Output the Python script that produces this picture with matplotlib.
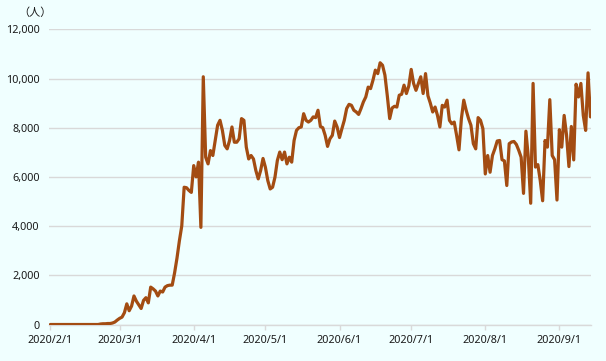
import matplotlib
matplotlib.use("Agg")
import matplotlib.pyplot as plt
import pandas as pd

# ---- data (daily values, persons) ----
start_date = "2020-02-01"
feb = [0] * 21 + [20, 30, 30, 40, 40, 60, 100, 180]
mar = [250, 300, 480, 840, 560, 750, 1160, 950, 800, 650, 980, 1090, 880, 1520, 1450,
       1360, 1160, 1360, 1320, 1520, 1580, 1600, 1600, 2100, 2700, 3400, 4010, 5580,
       5560, 5450, 5370]
apr = [6460, 6000, 6600, 3950, 10070, 6800, 6530, 7070, 6870, 7480, 8100, 8300, 7890,
       7280, 7140, 7480, 8030, 7410, 7410, 7550, 8370, 8300, 7210, 6730, 6870, 6730,
       6260, 5920, 6260, 6750]
may = [6390, 5850, 5510, 5580, 5990, 6670, 7010, 6700, 7010, 6530, 6800, 6600, 7480,
       7890, 8000, 8030, 8570, 8300, 8230, 8300, 8440, 8410, 8710, 8050, 8000, 7690,
       7240, 7550, 7690, 8270, 8030]
jun = [7600, 7960, 8300, 8780, 8950, 8910, 8710, 8640, 8540, 8780, 9050, 9250, 9650,
       9590, 9930, 10340, 10200, 10640, 10540, 10140, 9300, 8370, 8800, 8870, 8840,
       9320, 9360, 9730, 9390, 9700]
jul = [10370, 9800, 9520, 9800, 10070, 9390, 10200, 9300, 9000, 8640, 8840, 8500, 8030,
       8910, 8840, 9120, 8300, 8160, 8230, 7690, 7100, 8370, 9120, 8710, 8370, 8100,
       7350, 7140, 8410, 8300, 7960]
aug = [6120, 6870, 6190, 6870, 7140, 7460, 7480, 6700, 6650, 5650, 7350, 7420, 7440,
       7320, 7080, 6800, 5330, 7860, 6800, 4930, 9800, 6400, 6500, 5850, 5030, 7480,
       7210, 9140, 6870, 6700, 5060]
sep = [7920, 7210, 8500, 7700, 6420, 8050, 6690, 9770, 9250, 9800, 8500, 7890, 10230,
       8440]

tick_dates = ["2020-02-01", "2020-03-01", "2020-04-01", "2020-05-01", "2020-06-01",
              "2020-07-01", "2020-08-01", "2020-09-01"]
tick_labels = ["2020/2/1", "2020/3/1", "2020/4/1", "2020/5/1", "2020/6/1",
               "2020/7/1", "2020/8/1", "2020/9/1"]
y_ticks = [0, 2000, 4000, 6000, 8000, 10000, 12000]
unit_label = "（人）"

values = feb + mar + apr + may + jun + jul + aug + sep
dates = pd.date_range(start_date, periods=len(values), freq="D")

# ---- style ----
bg = "#F0FFFF"
line_color = "#A34C12"
grid_color = "#D9D9D9"
text_color = "#1a1a1a"

fig = plt.figure(figsize=(6.06, 3.61), dpi=100, facecolor=bg)
ax = fig.add_axes([0.0814, 0.1011, 0.8945, 0.8177])
ax.set_facecolor(bg)

ax.plot(dates, values, color=line_color, lw=2.3, solid_joinstyle="round",
        solid_capstyle="round", zorder=3)

ax.set_ylim(0, 12000)
ax.set_yticks(y_ticks)
ax.set_yticklabels([f"{v:,}" for v in y_ticks], fontsize=7.8, color=text_color,
                   family="Noto Sans")
ax.set_xticks(pd.to_datetime(tick_dates))
ax.set_xticklabels(tick_labels, fontsize=7.8, color=text_color, family="Noto Sans")
ax.set_xlim(dates[0] - pd.Timedelta(hours=10), dates[0] + pd.Timedelta(days=226.4))

ax.grid(axis="y", color=grid_color, lw=1.0)
ax.set_axisbelow(True)
for s in ["top", "right", "left"]:
    ax.spines[s].set_visible(False)
ax.spines["bottom"].set_color(grid_color)
ax.spines["bottom"].set_linewidth(1.0)
ax.tick_params(axis="x", length=3.5, color=grid_color, width=1.0, pad=4)
ax.tick_params(axis="y", length=0, pad=7)

fig.text(35 / 606, 1 - 13 / 361, unit_label, ha="center", va="center",
         fontsize=8, color=text_color, family=["Noto Sans CJK JP", "DejaVu Sans"])

fig.savefig("out.png", dpi=100, facecolor=bg)
